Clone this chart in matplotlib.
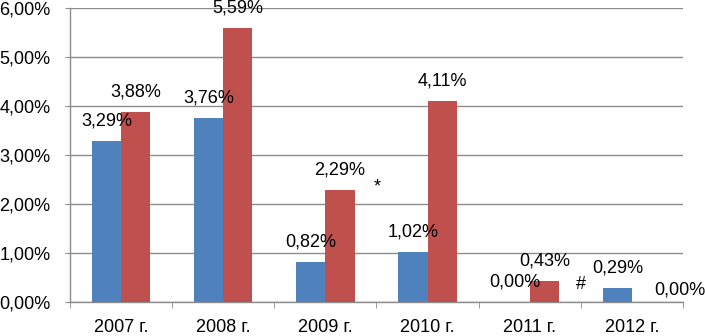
import matplotlib
matplotlib.use("Agg")
import matplotlib.pyplot as plt
import numpy as np
from matplotlib.ticker import FixedLocator

categories = ["2007 г.", "2008 г.", "2009 г.", "2010 г.", "2011 г.", "2012 г."]
series_blue = [3.29, 3.76, 0.82, 1.02, 0.00, 0.29]
series_red = [3.88, 5.59, 2.29, 4.11, 0.43, 0.00]
y_ticks = [0, 1, 2, 3, 4, 5, 6]
marks = [("*", 2, 2.35), ("#", 4, 0.35)]

plt.rcParams['font.family'] = ['Liberation Sans', 'DejaVu Sans']
BLUE = "#4F81BD"
RED = "#C0504D"
GRID = "#8C8C8C"

fig = plt.figure(figsize=(7.05, 3.36), dpi=100)
ax = fig.add_axes([70/705, 1-302/336, 613/705, 294/336])

x = np.arange(len(categories))
w = 0.285
ax.bar(x - w/2, series_blue, w, color=BLUE, zorder=3)
ax.bar(x + w/2, series_red, w, color=RED, zorder=3)

def fmt(v):
    return f"{v:.2f}".replace(".", ",") + "%"

fs = 13
for i, v in enumerate(series_blue):
    ax.annotate(fmt(v), (x[i] - w/2, v), xytext=(0, 20), textcoords="offset pixels",
                ha="center", va="center", fontsize=fs, zorder=4, annotation_clip=False)
for i, v in enumerate(series_red):
    dx, dy = (0, 20)
    if i == len(series_red) - 1:
        dx, dy = (33, 12)
    ax.annotate(fmt(v), (x[i] + w/2, v), xytext=(dx, dy), textcoords="offset pixels",
                ha="center", va="center", fontsize=fs, zorder=4, annotation_clip=False)

for s, xi, yv in marks:
    ax.text(xi + 0.505, yv, s, ha="center", va="center", fontsize=fs)

ax.set_xlim(-0.5, len(categories) - 0.5)
ax.set_ylim(0, 6)
ax.set_yticks(y_ticks)
ax.set_yticklabels([f"{t},00%" for t in y_ticks], fontsize=fs)
ax.set_xticks(x)
ax.set_xticklabels(categories, fontsize=fs)
ax.xaxis.set_minor_locator(FixedLocator(np.arange(-0.5, len(categories), 1.0)))
ax.tick_params(axis="x", which="major", length=0, pad=12)
ax.tick_params(axis="x", which="minor", length=4.3, color=GRID, direction="out")
ax.tick_params(axis="y", length=3.6, color=GRID, pad=10.5)
ax.grid(axis="y", color=GRID, linewidth=1, zorder=0)
for side in ["top", "right"]:
    ax.spines[side].set_visible(False)
for side in ["left", "bottom"]:
    ax.spines[side].set_color(GRID)
    ax.spines[side].set_linewidth(1)

fig.savefig("out.png", dpi=100)
